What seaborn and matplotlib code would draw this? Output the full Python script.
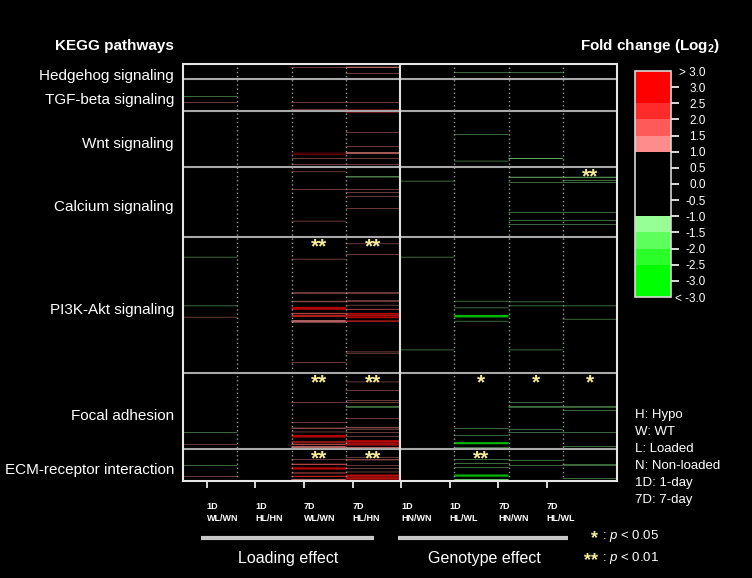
import numpy as np
import pandas as pd
import matplotlib
matplotlib.use("Agg")
import matplotlib.pyplot as plt
import seaborn as sns
from matplotlib.colors import ListedColormap, BoundaryNorm
from matplotlib.cm import ScalarMappable
from matplotlib.lines import Line2D

# KEGG pathways (rows are genes, grouped by pathway)
pathways = ["Hedgehog signaling", "TGF-beta signaling", "Wnt signaling",
            "Calcium signaling", "PI3K-Akt signaling", "Focal adhesion",
            "ECM-receptor interaction"]
genes_per_pathway = [37, 80, 140, 175, 340, 190, 80]

comparisons = ["1D\nWL/WN", "1D\nHL/HN", "7D\nWL/WN", "7D\nHL/HN",
               "1D\nHN/WN", "1D\nHL/WL", "7D\nHN/WN", "7D\nHL/WL"]

# changed genes per comparison: (gene row, log2 fold change)
wl_wn_1d = [(81, -1.3), (95, 1.2), (482, -1.3), (604, -1.3), (632, 1.2), (921, -1.4),
            (950, 1.2), (1002, -1.4), (1030, 1.2)]

hl_hn_1d = []

wl_wn_7d = [(8, 1.2), (96, 1.2), (114, 1.3), (115, 1.3), (116, 1.3), (118, 1.3), (119, 1.3),
            (222, 3.2), (225, 3.2), (236, 1.2), (250, 1.2), (269, 1.2), (313, 1.2), (392, 1.2),
            (487, 1.2), (571, 1.2), (573, 1.2), (592, 1.2), (594, 1.2), (607, 2.7), (608, 2.7),
            (609, 2.7), (610, 2.2), (611, 2.7), (612, 2.7), (613, 2.7), (622, 1.7), (623, 1.7),
            (624, 1.7), (627, 2.2), (628, 2.2), (629, 2.2), (630, 2.2), (631, 2.2), (640, 1.3),
            (641, 1.3), (642, 1.3), (643, 1.3), (644, 1.3), (645, 1.3), (745, 1.2),
            (846, 1.2), (895, 1.2), (909, 1.2), (911, 1.2), (919, 1.2), (927, 2.7), (928, 2.7),
            (929, 2.7), (930, 2.2), (931, 2.7), (932, 2.7), (943, 2.2), (944, 2.2), (945, 2.2),
            (949, 1.7), (950, 1.7), (951, 1.7), (955, 1.3), (956, 1.3), (957, 1.3), (958, 1.3),
            (959, 1.3), (988, 1.2), (999, 1.7), (1000, 1.7), (1001, 1.7), (1008, 2.7),
            (1009, 2.7), (1010, 2.7), (1011, 2.7), (1012, 2.7), (1021, 1.7), (1022, 1.7),
            (1029, 2.2), (1030, 2.2), (1031, 2.2), (1037, 1.3), (1038, 1.3), (1039, 1.3),
            (1040, 1.3), (1041, 1.3)]

hl_hn_7d = [(7, 1.4), (8, 1.4), (9, 1.4), (23, 1.2), (96, 1.2), (114, 2.2), (115, 2.2),
            (116, 2.2), (118, 2.2), (119, 2.2), (120, 2.2), (171, 1.2), (205, 1.2), (220, 1.4),
            (221, 1.4), (223, 1.4), (224, 1.4), (236, 1.2), (250, 1.2), (281, -1.3), (282, -1.3),
            (313, 1.2), (321, 1.2), (331, 1.2), (360, 1.2), (431, 1.2), (449, 1.2), (475, 1.2),
            (571, 1.2), (573, 1.2), (590, 1.2), (593, 1.2), (602, 1.2), (612, 1.7), (613, 1.7),
            (622, 2.2), (623, 2.7), (624, 2.7), (625, 2.2), (627, 2.7), (628, 2.7), (629, 2.2),
            (631, 2.7), (632, 2.7), (633, 2.2), (634, 2.7), (641, 2.2), (642, 2.2), (643, 2.2),
            (719, 1.2), (722, 1.2), (794, 1.2), (815, 1.2), (840, 1.2), (846, 1.2), (856, -1.3),
            (857, -1.3), (885, 1.2), (907, 1.2), (909, 1.2), (912, 1.2), (921, 1.2), (930, 1.2),
            (940, 2.7), (941, 2.7), (942, 2.2), (943, 2.7), (944, 2.2), (946, 2.7), (947, 2.7),
            (948, 2.2), (950, 2.7), (951, 2.7), (952, 2.2), (957, 1.3), (958, 1.3), (959, 1.3),
            (960, 1.3), (983, 1.2), (987, 1.2), (989, 1.2), (1002, 1.2), (1010, 1.2), (1019, 1.2),
            (1026, 2.7), (1027, 2.7), (1028, 2.2), (1029, 2.7), (1031, 2.2), (1032, 2.7),
            (1033, 2.7), (1035, 2.7), (1036, 2.2), (1037, 2.7), (1039, 2.7), (1040, 2.7),
            (1041, 2.2)]

hn_wn_1d = [(115, -1.3), (116, -1.3), (292, -1.3), (482, -1.3), (714, -1.3)]

hl_wl_1d = [(20, -1.3), (175, -1.3), (242, -1.3), (592, -1.3), (609, -1.3), (627, -3.2),
            (628, -3.2), (629, -2.7), (630, -3.2), (631, -3.2), (632, -2.7), (642, -1.3),
            (910, -1.2), (927, -1.3), (945, -2.7), (946, -2.7), (947, -2.2), (948, -2.7),
            (949, -2.7), (958, -1.2), (988, -1.3), (998, -1.3), (1008, -1.3), (1026, -3.2),
            (1027, -3.2), (1028, -3.2), (1029, -3.2), (1030, -3.2), (1037, -1.3), (1038, -1.3),
            (1039, -1.3), (1040, -1.3), (1041, -1.3)]

hn_wn_7d = [(20, -1.3), (115, -1.3), (116, -1.3), (235, -1.4), (236, -1.4), (282, -1.4),
            (283, -1.4), (296, -1.3), (371, -1.3), (390, -1.3), (400, -1.3), (594, -1.2),
            (604, -1.2), (714, -1.3), (846, -1.3), (856, -1.5), (857, -1.5), (913, -1.2),
            (921, -1.2), (990, -1.3), (1002, -1.3)]

hl_wl_7d = [(282, -1.4), (283, -1.4), (290, -1.3), (296, -1.3), (371, -1.3), (390, -1.3),
            (400, -1.3), (604, -1.2), (637, -1.3), (856, -1.5), (857, -1.5), (866, -1.3),
            (921, -1.2), (955, -1.2), (1000, -1.2), (1002, -1.2), (1035, -1.2)]

# pathway enrichment significance
sig_pathway = [3, 4, 4, 5, 5, 5, 5, 5, 6, 6, 6]
sig_column = [7, 2, 3, 2, 3, 5, 6, 7, 2, 3, 5]
sig_label = ["**", "**", "**", "**", "**", "*", "*", "*", "**", "**", "**"]

fc_levels = np.arange(-3.5, 3.51, 0.5)
fc_colors = ["#00ff00", "#00ff00", "#2aff2a", "#5cff5c", "#96ff96",
             "#000000", "#000000", "#000000", "#000000",
             "#ff8c8c", "#ff5a5a", "#ff2a2a", "#ff0000", "#ff0000"]
fc_labels = ["< -3.0", "-3.0", "-2.5", "-2.0", "-1.5", "-1.0", "-0.5", "0.0",
             "0.5", "1.0", "1.5", "2.0", "2.5", "3.0", "> 3.0"]
legend_lines = ["H: Hypo", "W: WT", "L: Loaded", "N: Non-loaded", "1D: 1-day", "7D: 7-day"]

sns.set_style("white")
plt.rcParams["font.family"] = ["Liberation Sans", "DejaVu Sans"]
plt.rcParams["mathtext.fontset"] = "custom"
plt.rcParams["mathtext.rm"] = "Liberation Sans"
plt.rcParams["mathtext.it"] = "Liberation Sans:italic"
plt.rcParams["mathtext.bf"] = "Liberation Sans:bold"

W, H = 752, 578
star_color = "#f5ec9a"

# build the gene x comparison matrix
all_cols = [wl_wn_1d, hl_hn_1d, wl_wn_7d, hl_hn_7d, hn_wn_1d, hl_wl_1d, hn_wn_7d, hl_wl_7d]
n_genes = sum(genes_per_pathway)
mat = np.zeros((n_genes, len(comparisons)))
for j, col in enumerate(all_cols):
    for row, fc in col:
        mat[row, j] = fc
df = pd.DataFrame(mat, columns=comparisons)

cmap = ListedColormap(fc_colors)
norm = BoundaryNorm(fc_levels, cmap.N)


def ftxt(x, y, s, **kw):
    return fig.text(x / W, 1 - y / H, s, **kw)


fig = plt.figure(figsize=(W / 100, H / 100), dpi=100, facecolor="black")
ax = fig.add_axes([183 / W, 1 - 481 / H, 434 / W, 417 / H])
# thin gene rows: no pixel snapping so single genes come out faint, clusters bright
sns.heatmap(df, ax=ax, mask=(df == 0), cmap=cmap, norm=norm, cbar=False,
            xticklabels=False, yticklabels=False, antialiased=True, linewidths=0,
            snap=False)
ax.set_facecolor("black")

# pathway separators and column guides
starts = np.concatenate([[0], np.cumsum(genes_per_pathway)[:-1]])
for b in starts[1:]:
    ax.axhline(b, color="#a8a8a8", lw=1.5)
for x in [1, 2, 3, 5, 6, 7]:
    ax.axvline(x, color="#9a9a9a", lw=1, ls=(0, (1, 2)))
ax.axvline(4, color="#e0e0e0", lw=1.5)
for s in ax.spines.values():
    s.set_visible(True)
    s.set_color("#e6e6e6")
    s.set_linewidth(1.5)

centers = starts + np.array(genes_per_pathway) / 2 + 8
ax.set_yticks(centers)
ax.set_yticklabels(pathways, color="white", fontsize=11, rotation=0)
ax.tick_params(axis="y", length=0, pad=6.5)

xpos = 0.44 + 0.895 * np.arange(len(comparisons))
ax.set_xticks(xpos)
ax.set_xticklabels(comparisons, fontsize=6.5, fontweight="bold", color="white",
                   ha="left", linespacing=1.45, rotation=0)
ax.tick_params(axis="x", length=5, width=1.2, color="white", pad=10, bottom=True)

for p, c, lab in zip(sig_pathway, sig_column, sig_label):
    ax.text(c + 0.5, starts[p] + 24, lab, color=star_color, fontsize=15,
            fontweight="bold", ha="center", va="center")

# colorbar
cax = fig.add_axes([635 / W, 1 - 297 / H, 36 / W, 226 / H])
cb = fig.colorbar(ScalarMappable(norm=norm, cmap=cmap), cax=cax, ticks=fc_levels)
cb.set_ticklabels(fc_labels)
cb.outline.set_edgecolor("#d8d8d8")
cb.outline.set_linewidth(1.2)
cax.tick_params(colors="white", length=6, width=1.2, pad=19, labelsize=8.5)
for lbl in cax.get_yticklabels():
    lbl.set_ha("right")
cax.yaxis.get_major_ticks()[0].tick2line.set_visible(False)
cax.yaxis.get_major_ticks()[-1].tick2line.set_visible(False)

# titles and annotations
ftxt(174, 46, "KEGG pathways", color="white", fontsize=11, fontweight="bold",
     ha="right", va="center")
ftxt(650, 46, r"Fold change (Log$_\mathbf{2}$)", color="white", fontsize=11,
     fontweight="bold", ha="center", va="center")

for i, line in enumerate(legend_lines):
    ftxt(635, 415 + 17 * i, line, color="white", fontsize=9.5, va="center")

ftxt(594.5, 539, "*", color=star_color, fontsize=13, fontweight="bold", ha="center", va="center")
ftxt(602, 536.5, r": $p$ < 0.05", color="white", fontsize=9.5, va="center")
ftxt(591.5, 561, "**", color=star_color, fontsize=13, fontweight="bold", ha="center", va="center")
ftxt(602, 558.5, r": $p$ < 0.01", color="white", fontsize=9.5, va="center")

for x0, x1, label in [(201, 374, "Loading effect"), (398, 568, "Genotype effect")]:
    fig.add_artist(Line2D([x0 / W, x1 / W], [1 - 538 / H] * 2, lw=3,
                          color="#c8c8c8", solid_capstyle="butt"))
    ftxt((x0 + x1) / 2 + 1, 559, label, color="white", fontsize=11.5,
         ha="center", va="center")

fig.savefig("out.png", dpi=100, facecolor="black")
